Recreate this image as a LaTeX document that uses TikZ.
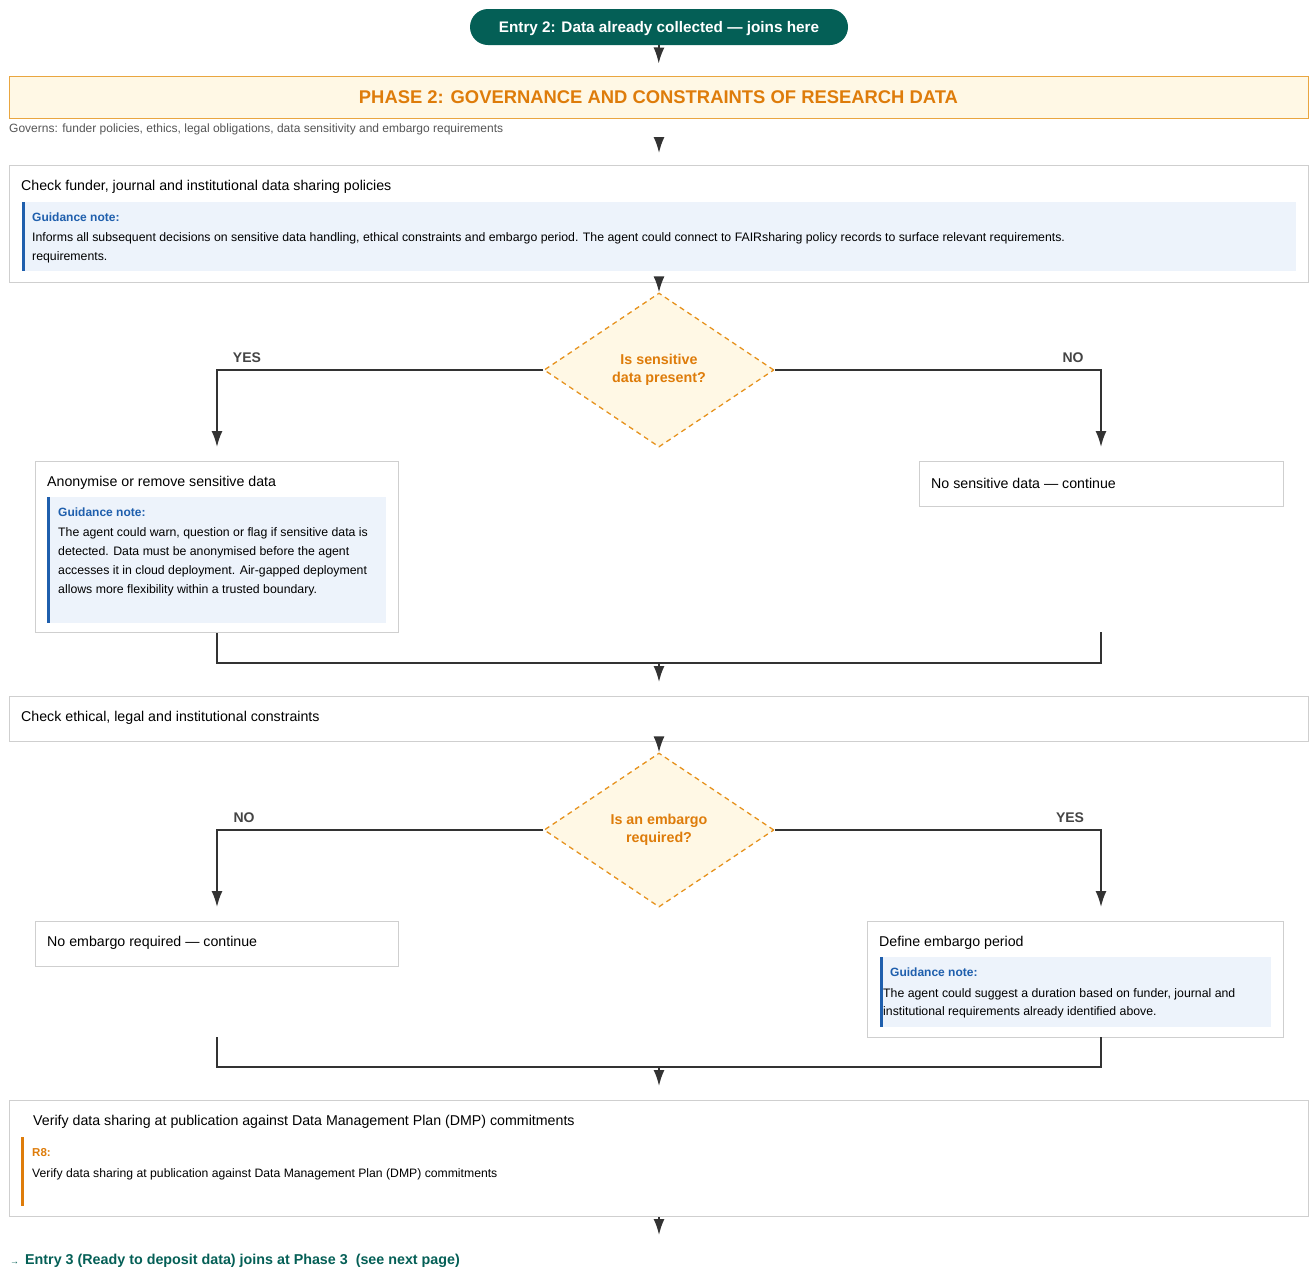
\documentclass[tikz,border=0pt]{standalone}
\usepackage{fontspec}
\setmainfont{Liberation Sans}
\usetikzlibrary{arrows.meta,shapes.geometric,calc}
\definecolor{teal}{HTML}{045F56}
\definecolor{phfill}{HTML}{FFF8E5}
\definecolor{phborder}{HTML}{E9A640}
\definecolor{dborder}{HTML}{E6921E}
\definecolor{orangetxt}{HTML}{DE7C0A}
\definecolor{gfill}{HTML}{EDF3FB}
\definecolor{gbar}{HTML}{1F5FAD}
\definecolor{boxborder}{HTML}{CFCFCF}
\definecolor{conn}{HTML}{333333}
\definecolor{lbl}{HTML}{444444}
\definecolor{gray5}{HTML}{555555}
\tikzset{
  box/.style={draw=boxborder, line width=1pt, fill=white, inner sep=0pt, anchor=north west},
  gbox/.style={fill=gfill, draw=none, inner sep=0pt, anchor=north west},
  titletxt/.style={anchor=west, inner sep=0pt, font=\fontsize{14.2}{17}\selectfont, text=black},
  gnote/.style={anchor=west, inner sep=0pt, font=\bfseries\fontsize{12}{14}\selectfont, text=gbar},
  gtext/.style={anchor=north west, inner sep=0pt, align=left, font=\fontsize{12.3}{19.5}\selectfont, text=black},
  decision/.style={shape=diamond, draw=dborder, fill=phfill, line width=1.3pt, dash pattern=on 5pt off 4pt, minimum width=230pt, minimum height=154pt, inner sep=0pt, align=center, text=orangetxt, font=\bfseries\fontsize{14.3}{17.5}\selectfont},
  line/.style={draw=conn, line width=1.8pt},
  arr/.style={line, -{Latex[length=16pt,width=11pt]}},
  yn/.style={inner sep=0pt, font=\bfseries\fontsize{14}{16}\selectfont, text=lbl},
}
\begin{document}
\begin{tikzpicture}[x=1pt,y=-1pt]
\useasboundingbox (0,0) rectangle (1311,1270);
% entry
\node[fill=teal, rounded corners=18pt, minimum width=378pt, minimum height=36pt, inner sep=0pt, text height=11pt, text depth=0pt, text=white, font=\bfseries\fontsize{15.3}{17}\selectfont] (entry) at (659,27) {Entry 2: Data already collected — joins here};
% phase
\node[draw=phborder, fill=phfill, line width=1pt, minimum width=1299pt, minimum height=42pt, inner sep=0pt, text height=13pt, text depth=0pt, text=orangetxt, font=\bfseries\fontsize{18.4}{20}\selectfont] (phase) at (658.5,97) {PHASE 2: GOVERNANCE AND CONSTRAINTS OF RESEARCH DATA};
\draw[arr, shorten >=12pt] (entry.south) -- (phase.north);
\node[anchor=west, inner sep=0pt, text=gray5, font=\fontsize{12}{14}\selectfont] (governs) at (9,129) {Governs: funder policies, ethics, legal obligations, data sensitivity and embargo requirements};
\coordinate (gv) at (659,137);
% box 1
\node[box, minimum width=1299pt, minimum height=117pt] (policies) at (9,165) {};
\draw[arr, shorten >=12pt] (gv) -- (policies.north);
\node[titletxt] (policiesT) at (21,187) {Check funder, journal and institutional data sharing policies};
\node[gbox, minimum width=1274pt, minimum height=69pt] (policiesG) at (22,202) {};
\fill[gbar] (policiesG.north west) rectangle ++(3,69);
\node[gnote] (policiesN) at (32,217) {Guidance note:};
\node[gtext] (policiesX) at (32,232) {Informs all subsequent decisions on sensitive data handling, ethical constraints and embargo period. The agent could connect to FAIRsharing policy records to surface relevant requirements.\\requirements.};
% decision 1
\node[decision] (sens) at (659,370) {Is sensitive\\data present?};
\draw[arr] (policies.south) -- (sens.north);
\coordinate (yes1) at (217,447);
\coordinate (no1) at (1101,447);
\draw[arr] (sens.west) -| (yes1);
\draw[arr] (sens.east) -| (no1);
\node[yn] (yes1L) at (247,358) {YES};
\node[yn] (no1L) at (1073,358) {NO};
% anonymise
\node[box, minimum width=363pt, minimum height=171pt] (anon) at (35,461) {};
\node[titletxt] (anonT) at (47,483) {Anonymise or remove sensitive data};
\node[gbox, minimum width=339pt, minimum height=126pt] (anonG) at (47,497) {};
\fill[gbar] (anonG.north west) rectangle ++(3,126);
\node[gnote] (anonN) at (58,512) {Guidance note:};
\node[gtext, font=\fontsize{12.3}{19}\selectfont] (anonX) at (58,527) {The agent could warn, question or flag if sensitive data is\\detected. Data must be anonymised before the agent\\accesses it in cloud deployment. Air-gapped deployment\\allows more flexibility within a trusted boundary.};
% no sensitive
\node[box, minimum width=364pt, minimum height=45pt] (nosens) at (919,461) {};
\node[titletxt] (nosensT) at (931,483) {No sensitive data — continue};
% merge 1
\coordinate (m1) at (659,663);
\coordinate (r1) at (1101,632);
\draw[line] (anon.south) |- (m1) -| (r1);
% ethical
\node[box, minimum width=1299pt, minimum height=45pt] (ethical) at (9,696) {};
\draw[arr, shorten >=14pt] (m1) -- (ethical.north);
\node[titletxt] (ethicalT) at (21,718) {Check ethical, legal and institutional constraints};
% decision 2
\node[decision] (emb) at (659,830) {Is an embargo\\required?};
\draw[arr] (ethical.south) -- (emb.north);
\coordinate (no2) at (217,907);
\coordinate (yes2) at (1101,907);
\draw[arr] (emb.west) -| (no2);
\draw[arr] (emb.east) -| (yes2);
\node[yn] (no2L) at (244,818) {NO};
\node[yn] (yes2L) at (1070,818) {YES};
% no embargo
\node[box, minimum width=363pt, minimum height=45pt] (noemb) at (35,921) {};
\node[titletxt] (noembT) at (47,943) {No embargo required — continue};
% define embargo
\node[box, minimum width=416pt, minimum height=116pt] (defemb) at (867,921) {};
\node[titletxt] (defembT) at (879,943) {Define embargo period};
\node[gbox, minimum width=391pt, minimum height=70pt] (defembG) at (880,957) {};
\fill[gbar] (defembG.north west) rectangle ++(3,70);
\node[gnote] (defembN) at (890,972) {Guidance note:};
\node[gtext, font=\fontsize{12.3}{18}\selectfont] (defembX) at (883,988) {The agent could suggest a duration based on funder, journal and\\institutional requirements already identified above.};
% merge 2
\coordinate (l2) at (217,1037);
\coordinate (m2) at (659,1067);
\coordinate (r2) at (1101,1037);
\draw[line] (l2) |- (m2) -| (r2);
% verify
\node[box, minimum width=1299pt, minimum height=116pt] (verify) at (9,1100) {};
\draw[arr, shorten >=14pt] (m2) -- (verify.north);
\node[titletxt] (verifyT) at (33,1122) {Verify data sharing at publication against Data Management Plan (DMP) commitments};
\fill[orangetxt] (21,1137) rectangle (24,1206);
\node[anchor=west, inner sep=0pt, text=orangetxt, font=\bfseries\fontsize{11.5}{13}\selectfont] (r8) at (32,1153) {R8:};
\node[anchor=west, inner sep=0pt, font=\fontsize{12.2}{14}\selectfont] (r8X) at (32,1174) {Verify data sharing at publication against Data Management Plan (DMP) commitments};
\coordinate (endp) at (659,1235);
\draw[arr] (verify.south) -- (endp);
% bottom link
\node[anchor=west, inner sep=0pt, text=teal, font=\bfseries\fontsize{14.3}{16}\selectfont] (next) at (10,1261) {{\fontsize{9}{10}\selectfont →}\hspace{6pt}Entry 3 (Ready to deposit data) joins at Phase 3\ \ (see next page)};
\end{tikzpicture}
\end{document}
